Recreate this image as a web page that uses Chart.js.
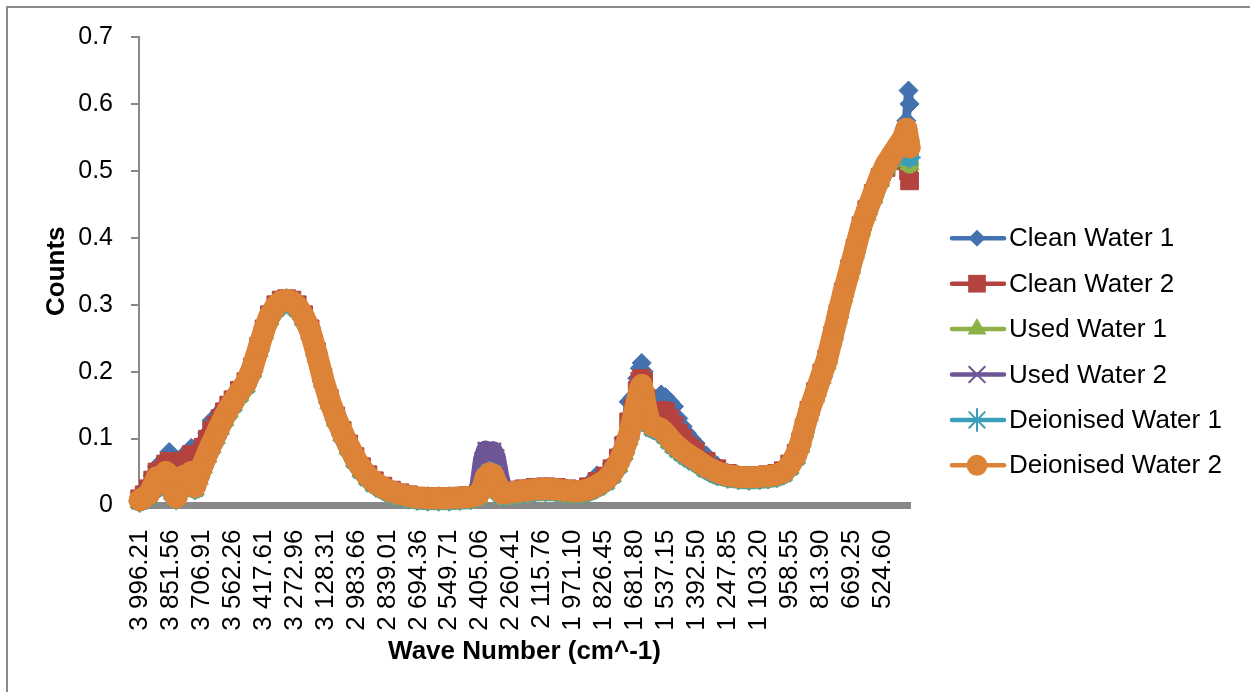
<!DOCTYPE html>
<html>
<head>
<meta charset="utf-8">
<title>FTIR spectra - water samples</title>
<script src="https://cdn.jsdelivr.net/npm/chart.js@4.4.1/dist/chart.umd.min.js"></script>
<style>
  html, body { margin: 0; padding: 0; background: #ffffff; }
  #wrap { width: 1250px; height: 692px; position: relative; }
</style>
</head>
<body>
<div id="wrap"><canvas id="spectra" width="1250" height="692"></canvas></div>
<script>
// wave numbers (cm^-1) shared by every series
const waveNumbers = [
  3996, 3975, 3955, 3935, 3915, 3895, 3875, 3858, 3842, 3825, 3808, 3790, 3772, 3755, 3738, 3720,
  3700, 3680, 3660, 3640, 3620, 3600, 3580, 3560, 3530, 3500, 3470, 3440, 3415, 3390, 3360, 3335,
  3310, 3285, 3260, 3230, 3200, 3170, 3140, 3110, 3080, 3050, 3020, 2990, 2960, 2930, 2900, 2860,
  2820, 2780, 2740, 2700, 2650, 2600, 2550, 2500, 2450, 2415, 2395, 2380, 2362, 2345, 2330, 2315,
  2300, 2250, 2200, 2150, 2100, 2050, 2000, 1950, 1900, 1860, 1820, 1790, 1760, 1735, 1712, 1692,
  1672, 1660, 1651, 1642, 1630, 1615, 1598, 1580, 1560, 1540, 1520, 1500, 1480, 1460, 1440, 1420,
  1400, 1350, 1300, 1250, 1200, 1150, 1100, 1060, 1020, 990, 960, 930, 910, 893, 870, 840,
  810, 787, 760, 735, 710, 680, 655, 627, 600, 570, 538, 510, 480, 455, 432, 415, 405, 400
];

const cleanWater1 = [
  0.012, 0.02, 0.03, 0.045, 0.058, 0.06, 0.07, 0.08, 0.064, 0.058, 0.068, 0.075, 0.077, 0.086, 0.079, 0.085,
  0.095, 0.108, 0.127, 0.13, 0.14, 0.148, 0.155, 0.161, 0.173, 0.186, 0.208, 0.239, 0.265, 0.286, 0.301, 0.308,
  0.31, 0.308, 0.301, 0.286, 0.265, 0.231, 0.193, 0.161, 0.135, 0.113, 0.093, 0.074, 0.059, 0.047, 0.038, 0.03,
  0.024, 0.02, 0.017, 0.015, 0.014, 0.014, 0.014, 0.015, 0.016, 0.019, 0.03, 0.052, 0.056, 0.055, 0.042, 0.026,
  0.02, 0.023, 0.025, 0.027, 0.028, 0.027, 0.025, 0.024, 0.032, 0.045, 0.048, 0.062, 0.08, 0.1, 0.155, 0.162,
  0.19, 0.205, 0.213, 0.2, 0.172, 0.152, 0.148, 0.158, 0.166, 0.162, 0.155, 0.148, 0.13, 0.118, 0.108, 0.1,
  0.093, 0.075, 0.06, 0.049, 0.046, 0.045, 0.046, 0.047, 0.049, 0.053, 0.063, 0.079, 0.096, 0.117, 0.143, 0.171,
  0.199, 0.22, 0.255, 0.288, 0.32, 0.355, 0.385, 0.419, 0.443, 0.468, 0.494, 0.513, 0.528, 0.54, 0.552, 0.575, 0.62, 0.6
];

const cleanWater2 = [
  0.01, 0.016, 0.025, 0.038, 0.05, 0.052, 0.062, 0.066, 0.05, 0.048, 0.058, 0.066, 0.068, 0.076, 0.07, 0.077,
  0.087, 0.099, 0.112, 0.12, 0.13, 0.14, 0.15, 0.158, 0.172, 0.185, 0.207, 0.238, 0.264, 0.285, 0.3, 0.307,
  0.309, 0.307, 0.3, 0.285, 0.264, 0.23, 0.192, 0.16, 0.134, 0.112, 0.092, 0.073, 0.058, 0.046, 0.037, 0.029,
  0.023, 0.019, 0.016, 0.014, 0.013, 0.013, 0.013, 0.014, 0.015, 0.018, 0.03, 0.058, 0.062, 0.06, 0.046, 0.028,
  0.021, 0.023, 0.025, 0.027, 0.028, 0.027, 0.025, 0.024, 0.028, 0.036, 0.044, 0.055, 0.071, 0.09, 0.125, 0.145,
  0.172, 0.186, 0.19, 0.184, 0.16, 0.14, 0.135, 0.14, 0.142, 0.14, 0.13, 0.12, 0.108, 0.1, 0.09, 0.085,
  0.08, 0.066, 0.055, 0.048, 0.045, 0.044, 0.045, 0.046, 0.048, 0.052, 0.062, 0.078, 0.095, 0.116, 0.142, 0.17,
  0.198, 0.219, 0.254, 0.287, 0.319, 0.354, 0.384, 0.418, 0.442, 0.466, 0.49, 0.505, 0.515, 0.52, 0.525, 0.515, 0.5, 0.485
];

const usedWater1 = [
  0.005, 0.009, 0.012, 0.023, 0.037, 0.029, 0.045, 0.041, 0.018, 0.009, 0.024, 0.039, 0.033, 0.045, 0.024, 0.04,
  0.057, 0.073, 0.087, 0.101, 0.115, 0.128, 0.14, 0.15, 0.165, 0.178, 0.2, 0.231, 0.257, 0.278, 0.293, 0.3,
  0.302, 0.3, 0.293, 0.278, 0.257, 0.223, 0.185, 0.153, 0.127, 0.105, 0.085, 0.066, 0.051, 0.04, 0.031, 0.023,
  0.017, 0.013, 0.01, 0.008, 0.007, 0.007, 0.007, 0.008, 0.009, 0.012, 0.022, 0.038, 0.044, 0.042, 0.03, 0.019,
  0.014, 0.016, 0.018, 0.02, 0.021, 0.02, 0.018, 0.017, 0.02, 0.026, 0.034, 0.044, 0.059, 0.077, 0.099, 0.125,
  0.153, 0.169, 0.175, 0.163, 0.14, 0.121, 0.114, 0.112, 0.109, 0.103, 0.095, 0.088, 0.082, 0.077, 0.072, 0.068,
  0.064, 0.053, 0.045, 0.041, 0.039, 0.038, 0.039, 0.04, 0.042, 0.046, 0.056, 0.071, 0.088, 0.109, 0.135, 0.163,
  0.191, 0.212, 0.247, 0.28, 0.312, 0.347, 0.377, 0.411, 0.435, 0.46, 0.486, 0.504, 0.517, 0.525, 0.53, 0.525, 0.515, 0.51
];

const usedWater2 = [
  0.007, 0.011, 0.015, 0.027, 0.04, 0.033, 0.048, 0.045, 0.021, 0.011, 0.027, 0.043, 0.037, 0.049, 0.027, 0.044,
  0.061, 0.077, 0.091, 0.105, 0.119, 0.132, 0.144, 0.154, 0.169, 0.182, 0.204, 0.235, 0.261, 0.282, 0.297, 0.304,
  0.306, 0.304, 0.297, 0.282, 0.261, 0.227, 0.189, 0.157, 0.131, 0.109, 0.089, 0.07, 0.055, 0.043, 0.034, 0.026,
  0.02, 0.016, 0.013, 0.011, 0.01, 0.01, 0.01, 0.011, 0.012, 0.02, 0.068, 0.083, 0.077, 0.082, 0.072, 0.045,
  0.025, 0.019, 0.021, 0.023, 0.024, 0.023, 0.021, 0.02, 0.023, 0.029, 0.037, 0.047, 0.063, 0.081, 0.103, 0.129,
  0.157, 0.173, 0.179, 0.167, 0.144, 0.125, 0.118, 0.116, 0.113, 0.107, 0.099, 0.092, 0.086, 0.081, 0.076, 0.072,
  0.068, 0.057, 0.049, 0.044, 0.042, 0.041, 0.042, 0.043, 0.045, 0.049, 0.059, 0.075, 0.092, 0.113, 0.139, 0.167,
  0.195, 0.216, 0.251, 0.284, 0.316, 0.351, 0.381, 0.415, 0.439, 0.464, 0.49, 0.509, 0.524, 0.535, 0.545, 0.56, 0.55, 0.53
];

const deionisedWater1 = [
  0.006, 0.01, 0.013, 0.024, 0.038, 0.03, 0.046, 0.042, 0.019, 0.01, 0.025, 0.04, 0.034, 0.046, 0.025, 0.041,
  0.058, 0.074, 0.088, 0.102, 0.116, 0.129, 0.141, 0.151, 0.166, 0.179, 0.201, 0.232, 0.258, 0.279, 0.294, 0.301,
  0.303, 0.301, 0.294, 0.279, 0.258, 0.224, 0.186, 0.154, 0.128, 0.106, 0.086, 0.067, 0.052, 0.041, 0.032, 0.024,
  0.018, 0.014, 0.011, 0.009, 0.008, 0.008, 0.008, 0.009, 0.01, 0.013, 0.024, 0.044, 0.05, 0.048, 0.036, 0.02,
  0.015, 0.017, 0.019, 0.021, 0.022, 0.021, 0.019, 0.018, 0.021, 0.027, 0.035, 0.045, 0.06, 0.078, 0.1, 0.126,
  0.154, 0.17, 0.176, 0.164, 0.141, 0.122, 0.115, 0.113, 0.11, 0.104, 0.096, 0.089, 0.083, 0.078, 0.073, 0.069,
  0.065, 0.054, 0.046, 0.042, 0.04, 0.039, 0.04, 0.041, 0.043, 0.047, 0.057, 0.072, 0.089, 0.11, 0.136, 0.164,
  0.192, 0.213, 0.248, 0.281, 0.313, 0.348, 0.378, 0.412, 0.436, 0.461, 0.487, 0.506, 0.52, 0.53, 0.54, 0.55, 0.53, 0.52
];

const deionisedWater2 = [
  0.008, 0.012, 0.016, 0.028, 0.042, 0.034, 0.05, 0.046, 0.022, 0.012, 0.028, 0.044, 0.038, 0.05, 0.028, 0.045,
  0.062, 0.078, 0.092, 0.106, 0.12, 0.133, 0.145, 0.155, 0.17, 0.183, 0.205, 0.236, 0.262, 0.283, 0.298, 0.305,
  0.307, 0.305, 0.298, 0.283, 0.262, 0.228, 0.19, 0.158, 0.132, 0.11, 0.09, 0.071, 0.056, 0.044, 0.035, 0.027,
  0.021, 0.017, 0.014, 0.012, 0.011, 0.011, 0.011, 0.012, 0.013, 0.016, 0.026, 0.042, 0.048, 0.046, 0.034, 0.022,
  0.018, 0.02, 0.022, 0.024, 0.025, 0.024, 0.022, 0.021, 0.024, 0.03, 0.038, 0.048, 0.064, 0.082, 0.104, 0.13,
  0.158, 0.174, 0.18, 0.168, 0.145, 0.126, 0.119, 0.117, 0.114, 0.108, 0.1, 0.093, 0.087, 0.082, 0.077, 0.073,
  0.069, 0.058, 0.05, 0.045, 0.043, 0.042, 0.043, 0.044, 0.046, 0.05, 0.06, 0.076, 0.093, 0.114, 0.14, 0.168,
  0.196, 0.217, 0.252, 0.285, 0.317, 0.352, 0.382, 0.416, 0.44, 0.465, 0.491, 0.51, 0.525, 0.537, 0.548, 0.563, 0.545, 0.535
];

// category labels printed under the axis
const axisTickWaves = [
  3996.21, 3851.56, 3706.91, 3562.26, 3417.61, 3272.96, 3128.31, 2983.66, 2839.01, 2694.36, 2549.71, 2405.06, 2260.41,
  2115.76, 1971.10, 1826.45, 1681.80, 1537.15, 1392.50, 1247.85, 1103.20, 958.55, 813.90, 669.25, 524.60
];
const countTicks = [0, 0.1, 0.2, 0.3, 0.4, 0.5, 0.6, 0.7];

const seriesNames = ['Clean Water 1', 'Clean Water 2', 'Used Water 1', 'Used Water 2', 'Deionised Water 1', 'Deionised Water 2'];
const seriesValues = [cleanWater1, cleanWater2, usedWater1, usedWater2, deionisedWater1, deionisedWater2];
const seriesColors = ['#4472B0', '#B4433F', '#8DB047', '#6E5596', '#3A9EBB', '#DD8337'];
const seriesMarkers = ['rectRot', 'rect', 'triangle', 'crossRot', 'star', 'circle'];
const markerRadius = [9.5, 12.5, 11, 11, 11, 10.5];
const bandWidths = [9, 11, 19, 19, 19, 22];

const FONT = "'Liberation Sans', Arial, sans-serif";
Chart.defaults.font.family = FONT;
Chart.defaults.color = '#000000';

function fmtWave(v) {
  const s = v.toFixed(2);
  return v >= 1000 ? s.slice(0, s.length - 6) + ' ' + s.slice(-6) : s;
}

// small marker painter for the hand-drawn legend
function drawMarker(ctx, style, r, x, y, color) {
  ctx.save();
  ctx.fillStyle = color;
  ctx.strokeStyle = color;
  ctx.lineWidth = 2;
  ctx.beginPath();
  if (style === 'rectRot') {
    ctx.moveTo(x - r, y); ctx.lineTo(x, y - r); ctx.lineTo(x + r, y); ctx.lineTo(x, y + r);
    ctx.closePath(); ctx.fill();
  } else if (style === 'rect') {
    const s = r * Math.SQRT1_2;
    ctx.rect(x - s, y - s, 2 * s, 2 * s); ctx.fill();
  } else if (style === 'triangle') {
    for (let k = 0; k < 3; k++) {
      const a = k * 2 * Math.PI / 3;
      const px = x + Math.sin(a) * r, py = y - Math.cos(a) * r;
      if (k === 0) ctx.moveTo(px, py); else ctx.lineTo(px, py);
    }
    ctx.closePath(); ctx.fill();
  } else if (style === 'crossRot' || style === 'star') {
    const d = r * Math.SQRT1_2;
    ctx.moveTo(x - d, y - d); ctx.lineTo(x + d, y + d);
    ctx.moveTo(x - d, y + d); ctx.lineTo(x + d, y - d);
    if (style === 'star') { ctx.moveTo(x, y - r); ctx.lineTo(x, y + r); ctx.moveTo(x - r, y); ctx.lineTo(x + r, y); }
    ctx.stroke();
  } else {
    ctx.arc(x, y, r, 0, Math.PI * 2); ctx.fill();
  }
  ctx.restore();
}

const frameAndLegend = {
  id: 'frameAndLegend',
  beforeDraw(chart) {
    const ctx = chart.ctx;
    ctx.save();
    ctx.fillStyle = '#ffffff';
    ctx.fillRect(0, 0, chart.width, chart.height);
    ctx.strokeStyle = '#8a8a8a';
    ctx.lineWidth = 2;
    ctx.strokeRect(7, 7, chart.width + 20, chart.height + 20);
    ctx.restore();
  },
  afterDraw(chart) {
    const ctx = chart.ctx;
    ctx.save();
    chart.data.datasets.forEach((ds, i) => {
      const y = 238.3 + i * 45.4;
      ctx.strokeStyle = ds.borderColor;
      ctx.lineWidth = 4.5;
      ctx.lineCap = 'round';
      ctx.beginPath();
      ctx.moveTo(952, y);
      ctx.lineTo(1004, y);
      ctx.stroke();
      drawMarker(ctx, ds.pointStyle, i === 0 ? 8.5 : ds.pointRadius, 977, y, ds.borderColor);
      ctx.fillStyle = '#000000';
      ctx.font = '26px ' + FONT;
      ctx.textBaseline = 'middle';
      ctx.textAlign = 'left';
      ctx.fillText(ds.label, 1009, y + 1);
    });
    ctx.restore();
  }
};

// the source plots every reading with a big marker, so the markers merge into a thick band;
// a wide line through the points gives the same solid band
const datasets = seriesNames.map((name, i) => ({
  label: name,
  data: waveNumbers.map((w, k) => ({ x: w, y: seriesValues[i][k] })),
  borderColor: seriesColors[i],
  backgroundColor: seriesColors[i],
  borderWidth: bandWidths[i],
  borderJoinStyle: 'round',
  borderCapStyle: 'round',
  pointStyle: seriesMarkers[i],
  pointRadius: markerRadius[i],
  pointBorderWidth: (seriesMarkers[i] === 'crossRot' || seriesMarkers[i] === 'star') ? 2.5 : 1,
  pointBorderColor: seriesColors[i],
  pointBackgroundColor: seriesColors[i],
  tension: 0,
  clip: false,
  order: seriesNames.length - 1 - i   // last series painted on top, like the source
}));

new Chart(document.getElementById('spectra'), {
  type: 'line',
  data: { datasets },
  options: {
    responsive: false,
    animation: false,
    devicePixelRatio: 1,
    layout: { padding: { left: 0, top: 37, right: 340, bottom: 0 } },
    plugins: { legend: { display: false }, tooltip: { enabled: false } },
    scales: {
      x: {
        type: 'linear',
        reverse: true,
        min: 398,
        max: 3999,
        afterBuildTicks: s => { s.ticks = axisTickWaves.map(v => ({ value: v })); },
        afterFit: s => { s.height = 186.5; },
        grid: { display: false },
        border: { display: true, color: '#888888', width: 7 },
        ticks: {
          autoSkip: false,
          maxRotation: 90,
          minRotation: 90,
          padding: 16,
          color: '#000000',
          font: { size: 26 },
          callback: v => fmtWave(v)
        },
        title: {
          display: true,
          text: 'Wave Number (cm^-1)',
          color: '#000000',
          font: { size: 26, weight: 'bold' },
          padding: { top: 0, bottom: 25 }
        }
      },
      y: {
        min: 0,
        max: 0.7,
        afterBuildTicks: s => { s.ticks = countTicks.map(v => ({ value: v })); },
        afterFit: s => { s.width = 139; },
        grid: { drawOnChartArea: false, drawTicks: true, tickLength: 8, color: '#888888', lineWidth: 2 },
        border: { display: true, color: '#888888', width: 2 },
        ticks: {
          padding: 18,
          color: '#000000',
          font: { size: 25 },
          callback: v => (v === 0 ? '0' : v.toFixed(1))
        },
        title: {
          display: true,
          text: 'Counts',
          color: '#000000',
          font: { size: 26, weight: 'bold' },
          padding: { top: 41, bottom: 0 }
        }
      }
    }
  },
  plugins: [frameAndLegend]
});
</script>
</body>
</html>
